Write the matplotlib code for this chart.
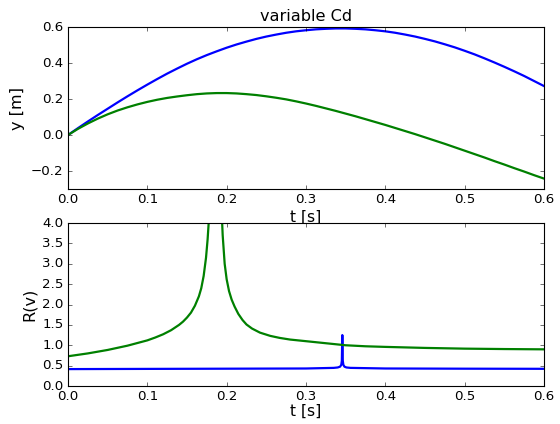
import matplotlib
matplotlib.use("Agg")
import matplotlib.pyplot as plt

# trajectory y(t), every 0.0125 s
t_top = [0, 0.0125, 0.025, 0.0375, 0.05, 0.0625, 0.075, 0.0875, 0.1, 0.1125, 0.125, 0.1375,
         0.15, 0.1625, 0.175, 0.1875, 0.2, 0.2125, 0.225, 0.2375, 0.25, 0.2625, 0.275, 0.2875,
         0.3, 0.3125, 0.325, 0.3375, 0.35, 0.3625, 0.375, 0.3875, 0.4, 0.4125, 0.425, 0.4375,
         0.45, 0.4625, 0.475, 0.4875, 0.5, 0.5125, 0.525, 0.5375, 0.55, 0.5625, 0.575, 0.5875, 0.6]
y_blue = [0, 0.038, 0.075, 0.111, 0.146, 0.181, 0.215, 0.248, 0.280, 0.311, 0.341, 0.369,
          0.396, 0.421, 0.444, 0.465, 0.485, 0.503, 0.519, 0.534, 0.547, 0.558, 0.568, 0.576,
          0.582, 0.587, 0.590, 0.592, 0.592, 0.590, 0.587, 0.582, 0.576, 0.568, 0.558, 0.547,
          0.534, 0.520, 0.504, 0.487, 0.468, 0.448, 0.426, 0.403, 0.379, 0.354, 0.328, 0.300, 0.272]
y_green = [0, 0.034, 0.064, 0.091, 0.115, 0.136, 0.154, 0.170, 0.184, 0.196, 0.206, 0.214,
           0.221, 0.227, 0.231, 0.233, 0.233, 0.231, 0.227, 0.222, 0.215, 0.207, 0.198, 0.187,
           0.175, 0.162, 0.148, 0.134, 0.119, 0.104, 0.088, 0.072, 0.056, 0.039, 0.022, 0.005,
           -0.013, -0.031, -0.049, -0.068, -0.087, -0.106, -0.125, -0.145, -0.164, -0.184,
           -0.203, -0.223, -0.242]

# R(v)
t_rb = [0, 0.1, 0.2, 0.3, 0.335, 0.34, 0.343, 0.3445, 0.3452, 0.3458, 0.3464, 0.3471,
        0.3485, 0.351, 0.356, 0.4, 0.5, 0.6]
r_blue = [0.415, 0.42, 0.425, 0.43, 0.445, 0.455, 0.475, 0.52, 0.62, 1.25, 0.62, 0.52,
          0.475, 0.455, 0.445, 0.43, 0.425, 0.422]
t_rg = [0, 0.025, 0.05, 0.075, 0.1, 0.11, 0.12, 0.13, 0.14, 0.145, 0.15, 0.155, 0.16, 0.165,
        0.168, 0.171, 0.174, 0.176, 0.178, 0.18, 0.182, 0.1855, 0.189, 0.191, 0.193, 0.195,
        0.1975, 0.2, 0.203, 0.2063, 0.21, 0.2147, 0.22, 0.225, 0.232, 0.242, 0.255, 0.267,
        0.28, 0.3, 0.325, 0.35, 0.375, 0.4, 0.45, 0.5, 0.55, 0.6]
r_green = [0.73, 0.80, 0.885, 0.99, 1.12, 1.19, 1.27, 1.37, 1.5, 1.58, 1.68, 1.8, 1.97, 2.2,
           2.4, 2.7, 3.15, 3.6, 4.2, 5.2, 7.5, 30.0, 8.0, 6.0, 4.6, 3.7,
           3.0, 2.62, 2.33, 2.12, 1.95, 1.77, 1.62, 1.51, 1.41, 1.31, 1.23, 1.18,
           1.14, 1.1, 1.05, 1.0, 0.975, 0.96, 0.935, 0.917, 0.907, 0.90]

plt.style.use('classic')
fig = plt.figure(figsize=(7, 5.3), dpi=80, facecolor='white')

ax1 = fig.add_axes([0.1214, 0.5542, 0.85, 0.3821])
ax1.plot(t_top, y_blue, 'b-', lw=2)
ax1.plot(t_top, y_green, 'g-', lw=2)
ax1.set_xlim(0, 0.6)
ax1.set_ylim(-0.3, 0.6)
ax1.set_yticks([-0.2, 0.0, 0.2, 0.4, 0.6])
ax1.set_title('variable Cd', fontsize=14.5)
ax1.set_xlabel('t [s]', fontsize=14, labelpad=3)
ax1.set_ylabel('y [m]', fontsize=14.5)

# second axes drawn on top, so it hides the lower part of the upper x label
ax2 = fig.add_axes([0.1214, 0.0896, 0.85, 0.3844])
ax2.plot(t_rb, r_blue, 'b-', lw=2)
ax2.plot(t_rg, r_green, 'g-', lw=2)
ax2.set_xlim(0, 0.6)
ax2.set_ylim(0, 4)
ax2.set_yticks([0, 0.5, 1, 1.5, 2, 2.5, 3, 3.5, 4])
ax2.set_xlabel('t [s]', fontsize=14, labelpad=0)
ax2.set_ylabel('R(v)', fontsize=14.5)

for ax in (ax1, ax2):
    ax.tick_params(labelsize=12)

fig.savefig('out.png', dpi=80, facecolor='white')
